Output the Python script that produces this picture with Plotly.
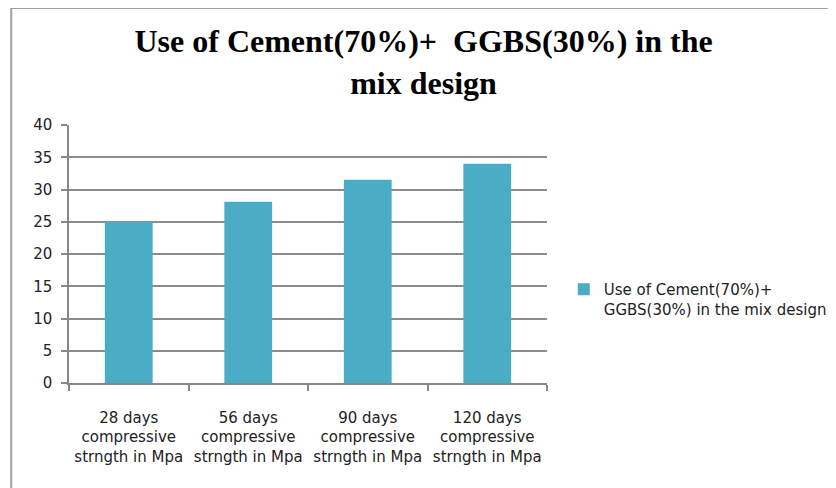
import plotly.graph_objects as go

categories = [
    "28 days<br>compressive<br>strngth in Mpa",
    "56 days<br>compressive<br>strngth in Mpa",
    "90 days<br>compressive<br>strngth in Mpa",
    "120 days<br>compressive<br>strngth in Mpa",
]
values = [25, 28.1, 31.5, 34]
series_name = "Use of Cement(70%)+<br>GGBS(30%) in the mix design"
title_text = "Use of Cement(70%)+  GGBS(30%) in the<br>mix design"
y_ticks = [0, 5, 10, 15, 20, 25, 30, 35, 40]

# page body has an 8px margin, so figure coords = screen coords - 8
OFF = 8
W, H = 836, 488
L, T = 69 - OFF, 125 - OFF
pw, ph = 553 - 69, 383 - 125
R, B = W - L - pw, H - T - ph

def px_x(p):  # screen px -> paper x
    return (p - OFF - L) / pw

def px_y(p):  # screen px -> paper y
    return (T + ph - (p - OFF)) / ph

fig = go.Figure()
fig.add_trace(go.Bar(
    x=categories, y=values, name=series_name,
    marker=dict(color="#4BACC6", line=dict(width=0)),
    showlegend=True,
))

fig.update_layout(
    width=W, height=H,
    margin=dict(l=L, r=R, t=T, b=B),
    paper_bgcolor="white", plot_bgcolor="white",
    bargap=0.6,
    title=dict(
        text=title_text, x=px_x(428), xanchor="center", xref="paper",
        y=1 - 44 / H, yanchor="top",
        font=dict(family="Liberation Serif", size=32, color="black", weight="bold"),
    ),
    font=dict(family="DejaVu Sans", size=15, color="#222"),
    xaxis=dict(
        showline=True, linecolor="#888", linewidth=1.5,
        ticks="outside", ticklen=6, tickcolor="#888", tickwidth=1.5,
        tickson="boundaries", showgrid=False, ticklabelstandoff=20,
        tickfont=dict(family="DejaVu Sans", size=15, color="#222"),
    ),
    yaxis=dict(
        range=[0, 40], tickvals=y_ticks,
        showline=True, linecolor="#888", linewidth=1.5,
        ticks="outside", ticklen=6, tickcolor="#888", tickwidth=1.5,
        showgrid=True, gridcolor="#8c8c8c", gridwidth=1.5,
        zeroline=False, ticklabelstandoff=6,
        tickfont=dict(family="DejaVu Sans", size=15, color="#222"),
    ),
    legend=dict(
        x=px_x(570), y=px_y(299), xanchor="left", yanchor="middle",
        font=dict(family="DejaVu Sans", size=15, color="#222"),
        itemwidth=30, tracegroupgap=0, valign="top",
    ),
    shapes=[
        dict(type="line", xref="paper", yref="paper",
             x0=px_x(10.5), x1=px_x(10.5), y0=px_y(7), y1=px_y(500),
             line=dict(color="#a0a0a0", width=2)),
        dict(type="line", xref="paper", yref="paper",
             x0=px_x(10.5), x1=px_x(850), y0=px_y(7.5), y1=px_y(7.5),
             line=dict(color="#a0a0a0", width=3)),
    ],
)

fig.write_html("out.html")
